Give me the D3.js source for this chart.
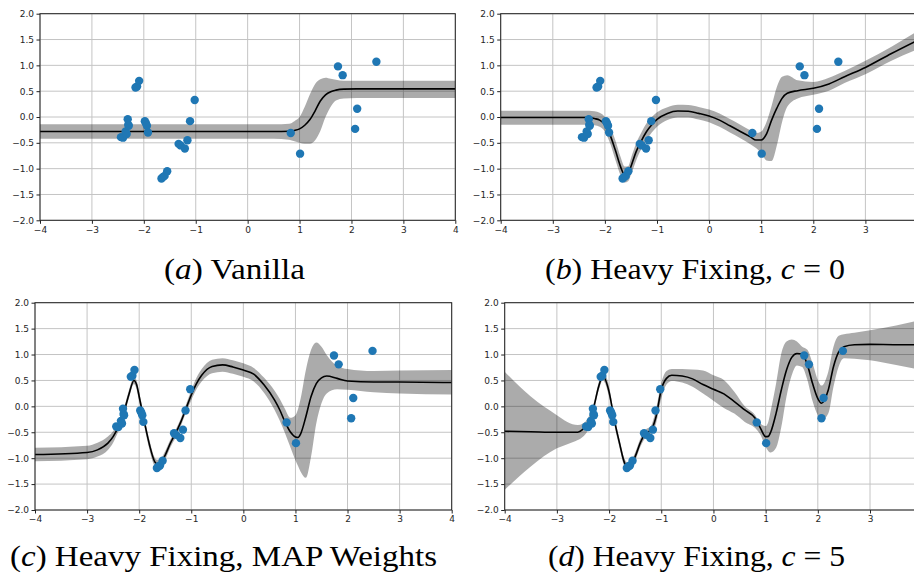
<!DOCTYPE html>
<html>
<head>
<meta charset="utf-8">
<script src="https://cdn.jsdelivr.net/npm/d3@7"></script>
<style>
  html, body { margin: 0; padding: 0; background: #fff; }
  svg { display: block; }
</style>
</head>
<body>
<script>
// training points, the same in all four panels
var obsX = [-2.44, -2.40, -2.35, -2.33, -2.31, -2.30, -2.29, -2.16, -2.13, -2.09, -1.98, -1.96, -1.94, -1.92,
            -1.66, -1.63, -1.60, -1.55, -1.33, -1.29, -1.21, -1.16, -1.11, -1.02, 0.83, 1.01, 1.74, 1.83, 2.07, 2.11, 2.48];
var obsY = [-0.39, -0.40, -0.28, -0.33, -0.045, -0.15, -0.17, 0.57, 0.59, 0.70, -0.08, -0.12, -0.17, -0.30,
            -1.19, -1.16, -1.14, -1.05, -0.52, -0.55, -0.61, -0.45, -0.08, 0.33, -0.31, -0.71, 0.98, 0.81, -0.23, 0.16, 1.07];

var xTicks = [-4, -3, -2, -1, 0, 1, 2, 3, 4];
var yTicks = [-2.0, -1.5, -1.0, -0.5, 0.0, 0.5, 1.0, 1.5, 2.0];

// (a) vanilla
var aX    = [-4, 0.5, 0.8, 0.9, 1.0, 1.1, 1.2, 1.3, 1.4, 1.5, 1.6, 1.7, 1.85, 2.1, 4];
var aMean = [-0.28, -0.28, -0.275, -0.26, -0.23, -0.16, -0.05, 0.12, 0.31, 0.43, 0.49, 0.52, 0.54, 0.545, 0.545];
var aHi   = [-0.14, -0.14, -0.13, -0.08, 0.0, 0.20, 0.44, 0.64, 0.73, 0.76, 0.74, 0.72, 0.70, 0.70, 0.70];
var aLo   = [-0.42, -0.42, -0.44, -0.47, -0.50, -0.52, -0.52, -0.45, -0.27, 0.0, 0.20, 0.32, 0.36, 0.37, 0.37];

// (b) heavy fixing, c = 0
var bX    = [-4, -2.3, -2.2, -2.1, -2.0, -1.9, -1.8, -1.7, -1.62, -1.55, -1.5, -1.4, -1.3, -1.2, -1.1,
             -1.0, -0.8, -0.6, -0.4, -0.2, 0, 0.2, 0.4, 0.6, 0.8, 0.9, 1.0, 1.1, 1.2, 1.3,
             1.4, 1.5, 1.7, 2.0, 2.3, 2.6, 3.0, 3.5, 3.95];
var bMean = [-0.01, -0.01, -0.03, -0.06, -0.15, -0.35, -0.64, -0.96, -1.12, -1.09, -0.96, -0.67, -0.46, -0.28, -0.15,
             -0.045, 0.07, 0.115, 0.11, 0.07, 0.02, -0.06, -0.17, -0.28, -0.39, -0.445, -0.445, -0.33, -0.06, 0.17,
             0.36, 0.46, 0.51, 0.555, 0.64, 0.78, 0.96, 1.23, 1.46];
var bHi   = [0.12, 0.12, 0.11, 0.08, 0.0, -0.19, -0.45, -0.77, -0.96, -0.95, -0.80, -0.51, -0.30, -0.12, 0.0,
             0.09, 0.19, 0.235, 0.23, 0.195, 0.145, 0.07, -0.04, -0.15, -0.26, -0.31, -0.28, -0.10, 0.22, 0.58,
             0.78, 0.81, 0.71, 0.68, 0.76, 0.89, 1.09, 1.36, 1.63];
var bLo   = [-0.15, -0.15, -0.16, -0.19, -0.28, -0.51, -0.83, -1.13, -1.27, -1.24, -1.12, -0.84, -0.62, -0.44, -0.30,
             -0.19, -0.06, -0.01, -0.01, -0.05, -0.10, -0.19, -0.30, -0.41, -0.53, -0.60, -0.70, -0.84, -0.85, -0.55,
             -0.10, 0.20, 0.36, 0.43, 0.51, 0.66, 0.83, 1.09, 1.29];

// (c) heavy fixing, MAP weights
var cX    = [-4, -3, -2.8, -2.6, -2.5, -2.4, -2.3, -2.2, -2.1, -2.05, -2.0, -1.9, -1.8, -1.7, -1.65,
             -1.6, -1.5, -1.4, -1.3, -1.2, -1.1, -1.0, -0.9, -0.8, -0.6, -0.4, -0.2, 0, 0.2, 0.4,
             0.6, 0.7, 0.8, 0.9, 1.0, 1.05, 1.1, 1.2, 1.3, 1.4, 1.5, 1.6, 1.8, 2.0, 2.5, 3.0, 4.0];
var cMean = [-0.93, -0.89, -0.84, -0.71, -0.585, -0.39, -0.135, 0.22, 0.50, 0.42, 0.19, -0.30, -0.75, -1.07, -1.11,
             -1.10, -0.94, -0.71, -0.52, -0.30, -0.04, 0.22, 0.44, 0.60, 0.77, 0.80, 0.76, 0.70, 0.62, 0.41,
             0.12, -0.07, -0.30, -0.49, -0.59, -0.60, -0.53, -0.20, 0.19, 0.44, 0.55, 0.585, 0.54, 0.49, 0.47, 0.47, 0.46];
var cHi   = [-0.80, -0.76, -0.70, -0.58, -0.48, -0.30, -0.06, 0.30, 0.56, 0.50, 0.28, -0.21, -0.66, -0.99, -1.03,
             -1.02, -0.86, -0.64, -0.45, -0.23, 0.04, 0.31, 0.55, 0.72, 0.90, 0.93, 0.89, 0.83, 0.74, 0.55,
             0.30, 0.14, -0.05, -0.22, -0.17, -0.05, 0.15, 0.70, 1.09, 1.23, 1.15, 0.99, 0.78, 0.72, 0.68, 0.69, 0.70];
var cLo   = [-1.06, -1.02, -0.97, -0.84, -0.70, -0.48, -0.21, 0.14, 0.43, 0.33, 0.09, -0.40, -0.85, -1.16, -1.20,
             -1.19, -1.03, -0.79, -0.60, -0.38, -0.12, 0.12, 0.33, 0.48, 0.64, 0.67, 0.63, 0.57, 0.48, 0.26,
             -0.07, -0.28, -0.52, -0.78, -1.04, -1.15, -1.26, -1.38, -0.97, -0.33, 0.06, 0.25, 0.33, 0.32, 0.27, 0.25, 0.23];

// (d) heavy fixing, c = 5
var dX    = [-4, -3.5, -3, -2.8, -2.6, -2.5, -2.4, -2.3, -2.2, -2.12, -2.0, -1.9, -1.8, -1.7, -1.65,
             -1.6, -1.5, -1.4, -1.3, -1.2, -1.1, -1.0, -0.9, -0.8, -0.6, -0.4, -0.2, 0, 0.2, 0.4,
             0.6, 0.8, 0.9, 1.0, 1.05, 1.1, 1.2, 1.3, 1.4, 1.5, 1.6, 1.7, 1.8, 1.9, 2.0,
             2.07, 2.2, 2.3, 2.4, 2.5, 2.7, 3.0, 3.5, 3.95];
var dMean = [-0.48, -0.49, -0.50, -0.50, -0.50, -0.44, -0.33, -0.04, 0.38, 0.58, 0.28, -0.26, -0.71, -1.10, -1.16,
             -1.15, -0.97, -0.70, -0.52, -0.46, -0.20, 0.32, 0.54, 0.60, 0.585, 0.53, 0.42, 0.33, 0.24, 0.09,
             -0.07, -0.23, -0.42, -0.585, -0.58, -0.49, -0.135, 0.315, 0.70, 0.945, 1.02, 1.01, 0.80, 0.44, 0.15,
             0.06, 0.315, 0.765, 1.05, 1.15, 1.19, 1.196, 1.19, 1.19];
var dHi   = [0.67, 0.19, -0.17, -0.30, -0.36, -0.33, -0.22, 0.04, 0.46, 0.68, 0.38, -0.17, -0.63, -1.02, -1.08,
             -1.07, -0.89, -0.62, -0.45, -0.38, -0.05, 0.45, 0.68, 0.72, 0.72, 0.71, 0.69, 0.60, 0.51, 0.28,
             0.0, -0.17, -0.33, -0.38, -0.30, -0.07, 0.44, 1.02, 1.25, 1.29, 1.25, 1.15, 1.09, 0.83, 0.51,
             0.40, 0.67, 1.15, 1.36, 1.39, 1.42, 1.47, 1.56, 1.66];
var dLo   = [-1.61, -1.16, -0.81, -0.73, -0.65, -0.585, -0.45, -0.12, 0.30, 0.50, 0.18, -0.35, -0.80, -1.18, -1.24,
             -1.23, -1.05, -0.78, -0.60, -0.54, -0.33, 0.15, 0.42, 0.49, 0.46, 0.38, 0.25, 0.11, -0.03, -0.14,
             -0.30, -0.42, -0.55, -0.78, -0.86, -0.89, -0.80, -0.40, 0.19, 0.60, 0.79, 0.76, 0.51, 0.10, -0.17,
             -0.27, -0.14, 0.38, 0.77, 0.93, 0.92, 0.89, 0.80, 0.71];

var captionLetters = ["a", "b", "c", "d"];
var captionTexts = ["Vanilla", "Heavy Fixing, ", "Heavy Fixing, MAP Weights", "Heavy Fixing, "];
var captionC = [null, "0", null, "5"];

var W = 914, H = 573;
var serifFont = "'Liberation Serif', 'DejaVu Serif', serif";

var panels = [
  {xs: aX, mean: aMean, hi: aHi, lo: aLo, box: {left: 40, right: 455.3, top: 13.7, bottom: 220.3},
   cap: {x: 164, y: 279, w: 141}},
  {xs: bX, mean: bMean, hi: bHi, lo: bLo, box: {left: 500.7, right: 917.5, top: 13.7, bottom: 220.3},
   cap: {x: 545, y: 279, w: 300}},
  {xs: cX, mean: cMean, hi: cHi, lo: cLo, box: {left: 35, right: 451.7, top: 302.7, bottom: 510},
   cap: {x: 10, y: 566, w: 427}},
  {xs: dX, mean: dMean, hi: dHi, lo: dLo, box: {left: 504.7, right: 922.2, top: 302.7, bottom: 510},
   cap: {x: 548, y: 566, w: 297}}
];

var svg = d3.select("body").append("svg")
    .attr("width", W)
    .attr("height", H);

var defs = svg.append("defs");

panels.forEach(function(p, k) {
  var box = p.box;
  var xScale = d3.scaleLinear().domain([-4, 4]).range([box.left, box.right]);
  var yScale = d3.scaleLinear().domain([-2, 2]).range([box.bottom, box.top]);
  // the right-hand panels run past the page edge, so drop ticks that fall outside it
  var shownX = xTicks.filter(d => xScale(d) < W - 2);

  defs.append("clipPath").attr("id", "clip" + k)
    .append("rect")
      .attr("x", box.left).attr("y", box.top)
      .attr("width", box.right - box.left).attr("height", box.bottom - box.top);

  var g = svg.append("g");

  // grid
  g.selectAll(".vgrid").data(shownX).enter().append("line")
      .attr("x1", d => xScale(d)).attr("x2", d => xScale(d))
      .attr("y1", box.top).attr("y2", box.bottom)
      .attr("stroke", "#c4c4c4").attr("stroke-width", 1);
  g.selectAll(".hgrid").data(yTicks).enter().append("line")
      .attr("y1", d => yScale(d)).attr("y2", d => yScale(d))
      .attr("x1", box.left).attr("x2", box.right)
      .attr("stroke", "#c4c4c4").attr("stroke-width", 1);

  var plot = g.append("g").attr("clip-path", "url(#clip" + k + ")");

  // uncertainty band
  var area = d3.area()
      .x((d, i) => xScale(p.xs[i]))
      .y0((d, i) => yScale(p.lo[i]))
      .y1((d, i) => yScale(p.hi[i]))
      .curve(d3.curveMonotoneX);
  plot.append("path")
      .attr("d", area(p.xs))
      .attr("fill", "#000")
      .attr("fill-opacity", 0.33);

  // predictive mean
  var line = d3.line()
      .x((d, i) => xScale(p.xs[i]))
      .y((d, i) => yScale(p.mean[i]))
      .curve(d3.curveMonotoneX);
  plot.append("path")
      .attr("d", line(p.xs))
      .attr("fill", "none")
      .attr("stroke", "#000")
      .attr("stroke-width", 1.6);

  // observations
  plot.selectAll("circle").data(obsX).enter().append("circle")
      .attr("cx", d => xScale(d))
      .attr("cy", (d, i) => yScale(obsY[i]))
      .attr("r", 4.2)
      .attr("fill", "#1f77b4");

  // axes
  var yAxis = d3.axisLeft(yScale).tickValues(yTicks).tickSize(3.5).tickPadding(2.5)
      .tickFormat(d3.format(".1f"));
  var xAxis = d3.axisBottom(xScale).tickValues(shownX).tickSize(3.5).tickPadding(2.5)
      .tickFormat(d3.format("d"));

  var ya = g.append("g").attr("transform", `translate(${box.left},0)`).call(yAxis);
  var xa = g.append("g").attr("transform", `translate(0,${box.bottom})`).call(xAxis);
  [ya, xa].forEach(function(a) {
    a.attr("font-family", "'DejaVu Sans', sans-serif").attr("font-size", 9);
    a.select(".domain").remove();
    a.selectAll("line").attr("stroke", "#222");
    a.selectAll("text").attr("fill", "#262626");
  });

  // spines
  g.append("rect")
      .attr("x", box.left).attr("y", box.top)
      .attr("width", box.right - box.left).attr("height", box.bottom - box.top)
      .attr("fill", "none")
      .attr("stroke", "#222")
      .attr("stroke-width", 1);

  // caption
  var cap = svg.append("text")
      .attr("x", p.cap.x).attr("y", p.cap.y)
      .attr("font-family", serifFont)
      .attr("font-size", 30)
      .attr("textLength", p.cap.w)
      .attr("lengthAdjust", "spacingAndGlyphs")
      .attr("fill", "#000");
  cap.append("tspan").text("(");
  cap.append("tspan").attr("font-style", "italic").text(captionLetters[k]);
  cap.append("tspan").text(") " + captionTexts[k]);
  if (captionC[k] !== null) {
    cap.append("tspan").attr("font-style", "italic").text("c");
    cap.append("tspan").text(" = " + captionC[k]);
  }
});
</script>
</body>
</html>
